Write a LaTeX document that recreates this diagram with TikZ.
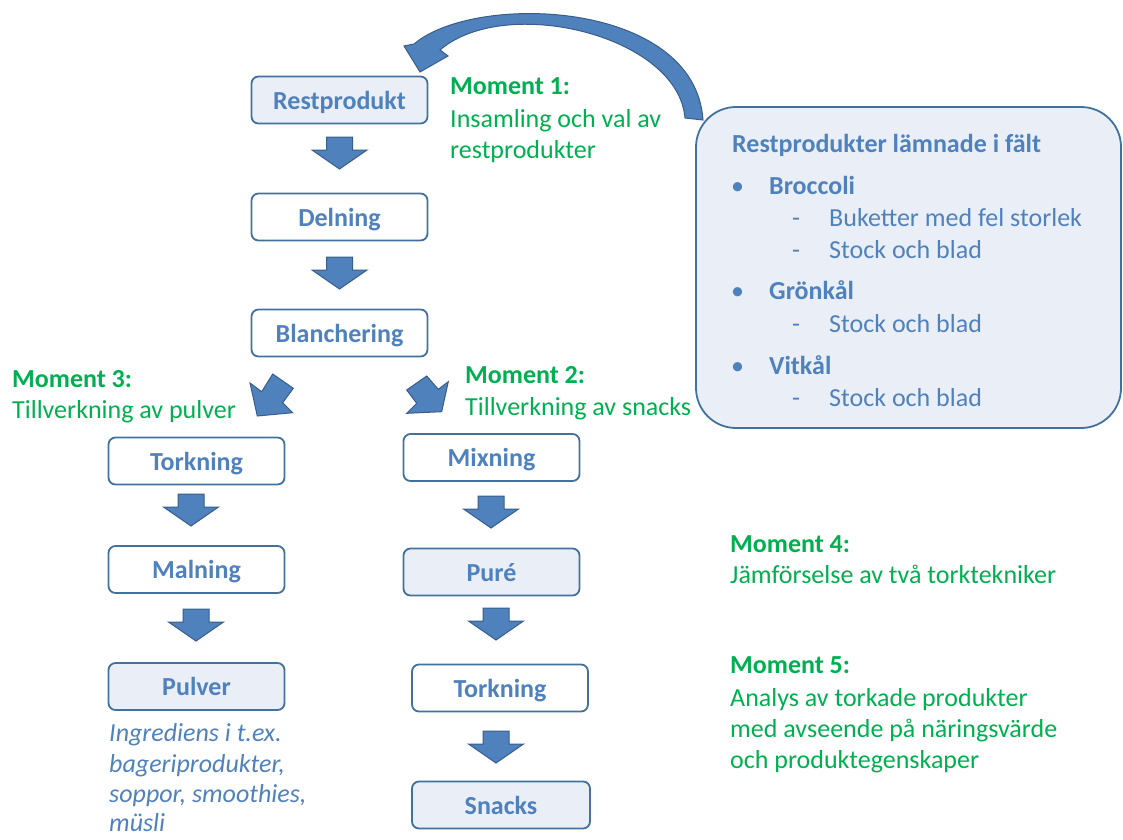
\documentclass[tikz,border=0pt]{standalone}
\usepackage{fontspec}
\setmainfont{Carlito}
\definecolor{boxline}{HTML}{41719C}
\definecolor{boxtext}{HTML}{4F81BD}
\definecolor{lightfill}{HTML}{EAEFF7}
\definecolor{arrowfill}{HTML}{4F81BD}
\definecolor{arrowline}{HTML}{385D8A}
\definecolor{mgreen}{HTML}{00B050}
\tikzset{
  stepbox/.style={draw=boxline, line width=1.8pt, rounded corners=7pt, fill=white,
    text=boxtext, font=\fontsize{26}{32}\selectfont\bfseries,
    minimum width=176pt, minimum height=47pt, inner sep=0pt,
    text height=18pt, text depth=0pt},
  filledbox/.style={stepbox, fill=lightfill},
  blockarr/.style={fill=arrowfill, draw=arrowline, line width=1pt, line join=miter},
  mtitle/.style={text=mgreen, font=\fontsize{26}{32}\selectfont\bfseries, anchor=base west, inner sep=0pt},
  mtext/.style={text=mgreen, font=\fontsize{26}{32}\selectfont, anchor=base west, inner sep=0pt},
  ltitle/.style={text=boxtext, font=\fontsize{26}{32}\selectfont\bfseries, anchor=base west, inner sep=0pt},
  ltext/.style={text=boxtext, font=\fontsize{26}{32}\selectfont, anchor=base west, inner sep=0pt},
  itext/.style={text=boxtext, font=\fontsize{26}{32}\selectfont\itshape, anchor=base west, inner sep=0pt},
}
\newcommand\downblock[2]{%
  \filldraw[blockarr] (#1-13,#2) -- (#1+13,#2) -- (#1+13,#2+13) -- (#1+27.5,#2+13)
    -- (#1,#2+32) -- (#1-27.5,#2+13) -- (#1-13,#2+13) -- cycle;}
\begin{document}
\begin{tikzpicture}[x=1pt,y=-1pt]
\useasboundingbox (0,0) rectangle (1123,839);

% curved return arrow
\filldraw[blockarr] (703,120) .. controls (695,0) and (475,-8) .. (414,44)
  -- (404,46) -- (420,72) -- (448,56) -- (440,50)
  .. controls (505,-6) and (678,35) .. (685,118) -- cycle;

% field box
\node[draw=boxline, line width=1.8pt, fill=lightfill, rounded corners=40pt,
  minimum width=425pt, minimum height=321pt, inner sep=0pt] (field) at (908.5,267.5) {};
\node[ltitle] (ft) at (732,152) {Restprodukter lämnade i fält};
\node[ltext] (b1) at (731,194) {•};
\node[ltitle] (b1t) at (769,194) {Broccoli};
\node[ltext] (d1) at (792,226) {-};
\node[ltext] (d1t) at (829,226) {Buketter med fel storlek};
\node[ltext] (d2) at (792,258) {-};
\node[ltext] (d2t) at (829,258) {Stock och blad};
\node[ltext] (b2) at (731,299) {•};
\node[ltitle] (b2t) at (769,299) {Grönkål};
\node[ltext] (d3) at (792,332) {-};
\node[ltext] (d3t) at (829,332) {Stock och blad};
\node[ltext] (b3) at (731,374) {•};
\node[ltitle] (b3t) at (769,374) {Vitkål};
\node[ltext] (d4) at (792,406) {-};
\node[ltext] (d4t) at (829,406) {Stock och blad};

% process boxes
\node[filledbox] (rest) at (339.5,100) {Restprodukt};
\node[stepbox] (deln) at (339.5,217) {Delning};
\node[stepbox] (blan) at (339.5,333) {Blanchering};
\node[stepbox] (tork1) at (196.5,461) {Torkning};
\node[stepbox] (maln) at (196.5,569.5) {Malning};
\node[filledbox] (pulv) at (196.5,686.5) {Pulver};
\node[stepbox] (mix) at (491.5,457.5) {Mixning};
\node[filledbox] (pure) at (491.5,572) {Puré};
\node[stepbox] (tork2) at (500,688) {Torkning};
\node[filledbox, minimum width=178pt] (snack) at (501,805) {Snacks};

% block arrows
\downblock{339.5}{137}
\downblock{339.5}{257}
\downblock{191}{494}
\downblock{196}{609}
\downblock{491}{496}
\downblock{496}{608}
\downblock{496}{731}
\filldraw[blockarr] (250,383) -- (261.7,391.7) -- (272.7,374) -- (293.3,388.3)
  -- (282.7,402.7) -- (292.7,412.7) -- (257.3,416) -- cycle;
\filldraw[blockarr] (426.7,376) -- (438.3,389.3) -- (448.3,381.7) -- (441.7,411.7)
  -- (406.7,413.3) -- (416.7,403.3) -- (406.7,390) -- cycle;

% moment texts
\node[mtitle] (m1) at (450,94) {Moment 1:};
\node[mtext] (m1a) at (450,127) {Insamling och val av};
\node[mtext] (m1b) at (450,158) {restprodukter};
\node[mtitle] (m3) at (12,387) {Moment 3:};
\node[mtext] (m3a) at (12,418) {Tillverkning av pulver};
\node[mtitle] (m2) at (465,383) {Moment 2:};
\node[mtext] (m2a) at (465,415) {Tillverkning av snacks};
\node[mtitle] (m4) at (730,552) {Moment 4:};
\node[mtext] (m4a) at (730,583) {Jämförselse av två torktekniker};
\node[mtitle] (m5) at (730,673) {Moment 5:};
\node[mtext] (m5a) at (730,706) {Analys av torkade produkter};
\node[mtext] (m5b) at (730,737) {med avseende på näringsvärde};
\node[mtext] (m5c) at (730,768) {och produktegenskaper};

% use text
\node[itext] (u1) at (109,741) {Ingrediens i t.ex.};
\node[itext] (u2) at (109,772) {bageriprodukter,};
\node[itext] (u3) at (109,802) {soppor, smoothies,};
\node[itext] (u4) at (109,831) {müsli};
\end{tikzpicture}
\end{document}
